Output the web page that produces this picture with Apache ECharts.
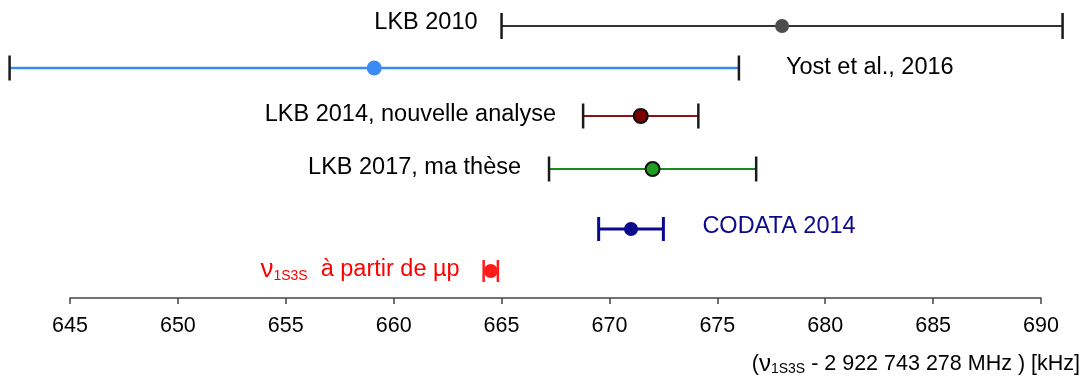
<!DOCTYPE html>
<html>
<head>
<meta charset="utf-8">
<script src="https://cdn.jsdelivr.net/npm/echarts@6/dist/echarts.min.js"></script>
<style>
  html, body { margin: 0; padding: 0; background: #fff; }
  #chart { width: 1084px; height: 376px; }
</style>
</head>
<body>
<div id="chart"></div>
<script>
// Measurements of the 1S-3S hydrogen transition frequency (kHz offset)
const names = ['LKB 2010', 'Yost et al., 2016', 'LKB 2014, nouvelle analyse', 'LKB 2017, ma thèse', 'CODATA 2014', 'µp'];
const centers = [678.0, 659.1, 671.45, 672.0, 671.0, 664.5];
const uncertainties = [13.0, 16.9, 2.67, 4.8, 1.5, 0.33];
const xTicks = [645, 650, 655, 660, 665, 670, 675, 680, 685, 690];

// Vertical placement of each row (hidden axis, top to bottom)
const rowY = [26, 68, 116, 169, 229, 271];

// Per-row drawing style
const styles = [
  { line: '#333333', lineW: 2, cap: '#1a1a1a', capW: 2.5, capH: 26, dot: '#4d4d4d', dotR: 7, border: null, text: '#000', side: 'left', gap: 24, dy: -3 },
  { line: '#3a8bf5', lineW: 2.5, cap: '#1a1a1a', capW: 2.5, capH: 25, dot: '#3a8bf5', dotR: 7.5, border: null, text: '#000', side: 'right', gap: 47, dy: 0 },
  { line: '#8b1414', lineW: 2, cap: '#1a1a1a', capW: 2.5, capH: 25, dot: '#7a0000', dotR: 7, border: '#111', text: '#000', side: 'left', gap: 27, dy: -1 },
  { line: '#1a8a1a', lineW: 2, cap: '#1a1a1a', capW: 2.5, capH: 25, dot: '#1f9e1f', dotR: 7, border: '#111', text: '#000', side: 'left', gap: 28, dy: -1 },
  { line: '#0a0a8a', lineW: 3, cap: '#0a0a8a', capW: 3, capH: 24, dot: '#0a0a8a', dotR: 7, border: null, text: '#0a0a8a', side: 'right', gap: 39, dy: -2 },
  { line: '#ff1a1a', lineW: 2.5, cap: '#ff1a1a', capW: 2.5, capH: 22, dot: '#ff1a1a', dotR: 7, border: null, text: '#ff0000', side: 'left', gap: 24, dy: -1 }
];

const FONT = '"Liberation Sans", Arial, Helvetica, sans-serif';
const LABEL_SIZE = 23.5;

const data = names.map((n, i) => [centers[i], rowY[i], uncertainties[i], i]);

function renderItem(params, api) {
  const c = api.value(0), y = api.value(1), u = api.value(2), i = api.value(3);
  const s = styles[i];
  const pc = api.coord([c, y]);
  const pl = api.coord([c - u, y]);
  const pr = api.coord([c + u, y]);
  const h = s.capH / 2;
  const children = [
    { type: 'line', shape: { x1: pl[0], y1: pc[1], x2: pr[0], y2: pc[1] }, style: { stroke: s.line, lineWidth: s.lineW } },
    { type: 'line', shape: { x1: pl[0], y1: pc[1] - h, x2: pl[0], y2: pc[1] + h }, style: { stroke: s.cap, lineWidth: s.capW } },
    { type: 'line', shape: { x1: pr[0], y1: pc[1] - h, x2: pr[0], y2: pc[1] + h }, style: { stroke: s.cap, lineWidth: s.capW } },
    { type: 'circle', shape: { cx: pc[0], cy: pc[1], r: s.dotR },
      style: { fill: s.dot, stroke: s.border || null, lineWidth: s.border ? 2 : 0 } }
  ];
  const tx = s.side === 'left' ? pl[0] - s.gap : pr[0] + s.gap;
  let textStyle;
  if (i === 5) {
    textStyle = {
      text: '{nu|ν}{sub|1S3S}{t|  à partir de µp}',
      rich: {
        nu: { fontFamily: FONT, fontSize: 26, fill: s.text },
        sub: { fontFamily: FONT, fontSize: 14, fill: s.text, padding: [12, 0, 0, 0] },
        t: { fontFamily: FONT, fontSize: LABEL_SIZE, fill: s.text }
      }
    };
  } else {
    textStyle = { text: names[i], fontFamily: FONT, fontSize: LABEL_SIZE, fill: s.text };
  }
  children.push({
    type: 'text', x: tx, y: pc[1] + s.dy,
    style: Object.assign(textStyle, { align: s.side === 'left' ? 'right' : 'left', verticalAlign: 'middle' })
  });
  return { type: 'group', children };
}

const chart = echarts.init(document.getElementById('chart'), null, { renderer: 'canvas' });
chart.setOption({
  animation: false,
  backgroundColor: '#fff',
  grid: { left: 70, right: 43, top: 0, bottom: 78 },
  xAxis: [{
    type: 'value', min: xTicks[0], max: xTicks[xTicks.length - 1], interval: xTicks[1] - xTicks[0],
    position: 'bottom',
    axisLine: { show: true, onZero: false, lineStyle: { color: '#444', width: 1.5 } },
    axisTick: { show: true, length: 6, lineStyle: { color: '#444', width: 1.5 } },
    axisLabel: { fontFamily: FONT, fontSize: 21.5, color: '#000', margin: 17 },
    splitLine: { show: false }
  }, {
    // inner half of the crossing tick marks
    type: 'value', min: xTicks[0], max: xTicks[xTicks.length - 1], interval: xTicks[1] - xTicks[0],
    position: 'bottom',
    axisLine: { show: false },
    axisTick: { show: true, inside: true, length: 4, lineStyle: { color: '#444', width: 1.5 } },
    axisLabel: { show: false },
    splitLine: { show: false }
  }],
  yAxis: { type: 'value', min: 0, max: 298, inverse: true, show: false },
  graphic: [{
    type: 'text', right: 4, top: 352,
    style: {
      text: '{p|(}{nu|ν}{sub|1S3S}{t| - 2 922 743 278 MHz ) [kHz]}',
      rich: {
        p: { fontFamily: FONT, fontSize: 21.5, fill: '#000' },
        nu: { fontFamily: FONT, fontSize: 24, fill: '#000' },
        sub: { fontFamily: FONT, fontSize: 14, fill: '#000', padding: [11, 0, 0, 0] },
        t: { fontFamily: FONT, fontSize: 21.5, fill: '#000' }
      }
    }
  }],
  series: [{
    type: 'custom',
    clip: false,
    renderItem,
    encode: { x: 0, y: 1 },
    data
  }]
});
</script>
</body>
</html>
